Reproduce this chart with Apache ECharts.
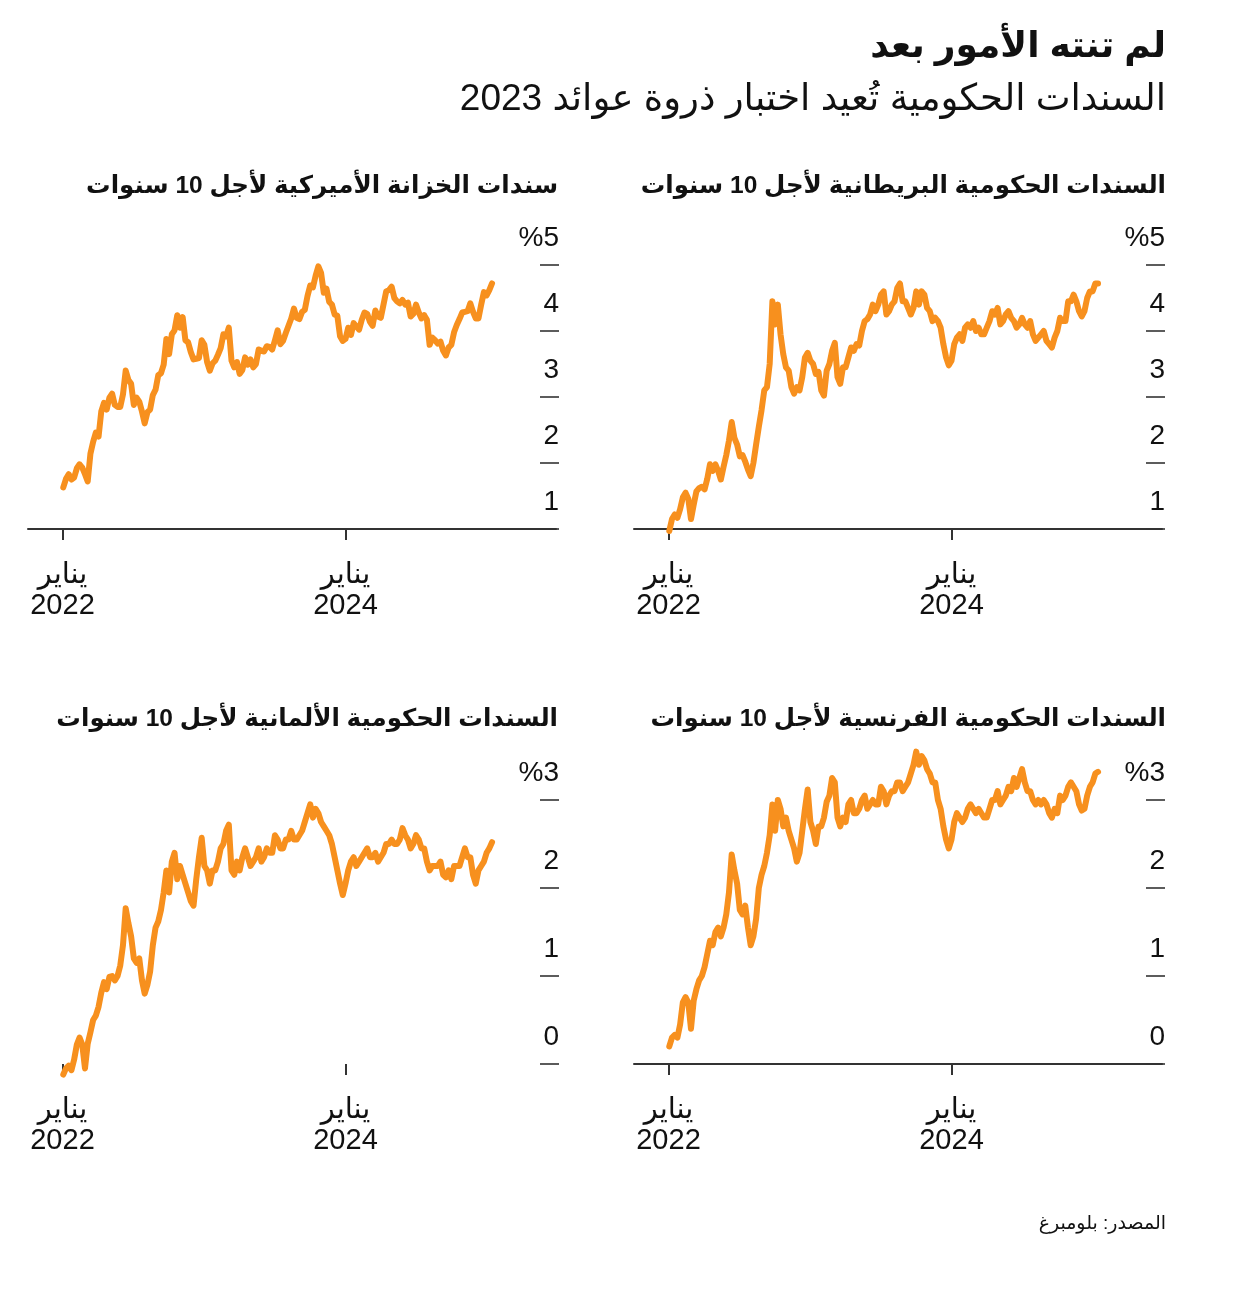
<!DOCTYPE html>
<html>
<head>
<meta charset="utf-8">
<script src="https://cdn.jsdelivr.net/npm/echarts@6/dist/echarts.min.js"></script>
<style>
html,body{margin:0;padding:0;background:#fff;}
#chart{width:1240px;height:1300px;}
</style>
</head>
<body>
<div id="chart"></div>
<script>
// ---- Texts ----
const mainTitle = 'لم تنته الأمور بعد';
const subTitle = 'السندات الحكومية تُعيد اختبار ذروة عوائد 2023';
const ukTitle = 'السندات الحكومية البريطانية لأجل 10 سنوات';
const usTitle = 'سندات الخزانة الأميركية لأجل 10 سنوات';
const frTitle = 'السندات الحكومية الفرنسية لأجل 10 سنوات';
const deTitle = 'السندات الحكومية الألمانية لأجل 10 سنوات';
const sourceText = 'المصدر: بلومبرغ';
const monthLabel = 'يناير';
const xTickYears = [2022, 2024];
const yTicksTop = [1, 2, 3, 4, 5];     // UK, US
const yTicksBottom = [0, 1, 2, 3];     // France, Germany

// ---- Weekly samples (Mondays), starting 2022-01-03 ----
const firstWeek = '2022-01-03';

// US 10-year Treasury yield (%)
const usYield = [
  1.63,1.76,1.83,1.75,1.78, 1.92,1.98,1.93,1.83, 1.72,2.14,2.32,2.46, 2.40,2.78,2.91,2.81,
  2.99,3.05,2.88,2.85,2.85, 3.04,3.40,3.26,3.20, 2.88,2.99,2.93,2.78, 2.60,2.77,2.81,3.03,3.11,
  3.33,3.36,3.49,3.88, 3.65,3.95,4.01,4.24,4.05, 4.21,3.86,3.83,3.68, 3.57,3.58,3.59,3.86,
  3.79,3.53,3.40,3.51,3.55, 3.64,3.74,3.95,3.92, 4.05,3.55,3.45,3.53, 3.35,3.41,3.60,3.49,
  3.57,3.45,3.50,3.72,3.70, 3.69,3.77,3.76,3.72, 3.86,4.01,3.80,3.85,3.97, 4.08,4.19,4.34,4.20,
  4.18,4.29,4.32,4.53, 4.69,4.66,4.84,4.98,4.88, 4.58,4.64,4.44,4.40, 4.25,4.23,3.92,3.85,
  3.88,4.05,3.94,4.12,4.07, 4.02,4.17,4.28,4.26, 4.14,4.08,4.31,4.22, 4.20,4.40,4.60,4.62,4.67,
  4.50,4.45,4.42,4.47, 4.40,4.43,4.22,4.26, 4.40,4.28,4.19,4.24,4.17, 3.79,3.90,3.86,3.81,
  3.84,3.70,3.63,3.75,3.79, 3.98,4.09,4.18,4.28, 4.29,4.30,4.42,4.29, 4.19,4.19,4.40,4.59,4.54,
  4.62,4.72
];

// UK 10-year gilt yield (%)
const ukYield = [
  0.97,1.15,1.22,1.17,1.30, 1.48,1.55,1.46,1.15, 1.37,1.57,1.62,1.64, 1.60,1.76,1.98,1.88,
  1.98,1.88,1.75,1.94,2.12, 2.34,2.62,2.38,2.28, 2.10,2.12,2.02,1.90, 1.80,2.00,2.28,2.55,2.80,
  3.10,3.15,3.50,4.45, 4.10,4.40,3.95,3.65,3.45, 3.40,3.15,3.05,3.15, 3.10,3.30,3.60,3.67,
  3.55,3.50,3.35,3.38,3.10, 3.02,3.40,3.50,3.70, 3.82,3.30,3.20,3.45, 3.45,3.60,3.75,3.70,
  3.80,3.78,4.00,4.15,4.18, 4.25,4.40,4.30,4.40, 4.55,4.60,4.25,4.30,4.40, 4.45,4.65,4.72,4.45,
  4.45,4.35,4.25,4.35, 4.60,4.40,4.60,4.55,4.35, 4.30,4.15,4.20,4.15, 4.05,3.80,3.60,3.48,
  3.55,3.80,3.90,3.95,3.85, 4.05,4.10,4.05,4.15, 4.00,4.05,3.95,3.95, 4.05,4.15,4.30,4.25,4.35,
  4.10,4.15,4.25,4.30, 4.20,4.15,4.05,4.10, 4.20,4.10,4.05,4.15,3.95, 3.85,3.90,3.95,4.00,
  3.85,3.80,3.75,3.90,4.00, 4.20,4.15,4.15,4.45, 4.45,4.55,4.45,4.30, 4.22,4.30,4.50,4.60,4.60,
  4.72,4.72
];

// France 10-year OAT yield (%)
const frYield = [
  0.20,0.30,0.33,0.30,0.45, 0.70,0.76,0.70,0.40, 0.72,0.85,0.95,1.00, 1.10,1.25,1.40,1.35,
  1.50,1.55,1.45,1.55,1.70, 1.95,2.38,2.20,2.05, 1.75,1.70,1.80,1.55, 1.35,1.45,1.65,2.00,2.15,
  2.25,2.40,2.60,2.95, 2.65,3.00,2.90,2.70,2.80, 2.65,2.55,2.45,2.30, 2.40,2.65,2.90,3.12,
  2.75,2.65,2.50,2.70,2.70, 2.80,2.98,3.05,3.25, 3.20,2.80,2.70,2.80, 2.75,2.95,3.00,2.85,
  2.85,2.90,3.00,3.05,2.90, 2.95,3.00,2.95,2.95, 3.15,3.10,2.95,3.05,3.10, 3.10,3.20,3.20,3.10,
  3.15,3.20,3.30,3.40, 3.55,3.40,3.50,3.45,3.35, 3.30,3.20,3.20,3.00, 2.90,2.70,2.55,2.45,
  2.55,2.75,2.85,2.80,2.75, 2.80,2.90,2.95,2.90, 2.85,2.90,2.85,2.80, 2.80,2.90,3.00,3.00,3.10,
  2.95,3.00,3.05,3.15, 3.10,3.25,3.15,3.25, 3.35,3.20,3.10,3.10,3.00, 2.95,3.00,2.95,3.00,
  2.95,2.85,2.80,2.90,2.85, 3.05,3.00,3.05,3.15, 3.20,3.15,3.10,2.95, 2.88,2.90,3.05,3.15,3.20,
  3.30,3.32
];

// Germany 10-year Bund yield (%)
const deYield = [
  -0.12,-0.05,-0.02,-0.07,0.05, 0.22,0.30,0.22,-0.05, 0.23,0.36,0.50,0.55, 0.65,0.81,0.93,0.85,
  0.99,1.00,0.95,1.00,1.12, 1.35,1.77,1.60,1.45, 1.20,1.15,1.20,0.95, 0.80,0.90,1.05,1.35,1.55,
  1.62,1.75,1.95,2.20, 1.95,2.30,2.40,2.10,2.25, 2.15,2.05,1.95,1.85, 1.80,2.10,2.35,2.57,
  2.25,2.20,2.05,2.20,2.20, 2.30,2.45,2.50,2.65, 2.72,2.20,2.15,2.30, 2.20,2.35,2.45,2.35,
  2.25,2.30,2.35,2.45,2.30, 2.35,2.45,2.40,2.40, 2.60,2.55,2.45,2.45,2.55, 2.55,2.65,2.55,2.55,
  2.60,2.65,2.75,2.85, 2.95,2.80,2.90,2.85,2.75, 2.70,2.65,2.60,2.50, 2.35,2.20,2.05,1.92,
  2.05,2.20,2.30,2.35,2.25, 2.30,2.35,2.40,2.45, 2.35,2.35,2.40,2.30, 2.35,2.40,2.50,2.50,2.55,
  2.50,2.50,2.55,2.68, 2.60,2.55,2.45,2.50, 2.60,2.55,2.45,2.45,2.30, 2.20,2.25,2.25,2.25,
  2.30,2.15,2.12,2.20,2.10, 2.25,2.25,2.25,2.35, 2.45,2.35,2.35,2.15, 2.05,2.20,2.25,2.30,2.40,
  2.45,2.52
];

// ---- Build ----
const DAY = 86400000;
const t0 = Date.parse(firstWeek + 'T00:00:00Z');
function toPairs(vals){ return vals.map((v,i)=>[t0 + i*7*DAY, v]); }
const xTicks = xTickYears.map(y => Date.UTC(y,0,1));
const xMin = Date.UTC(2021,9,4);
const xMax = Date.UTC(2025,5,27);

const FONT = "'Liberation Sans', 'DejaVu Sans', sans-serif";
const INK = '#111';
const ORANGE = '#F7901E';

const panels = [
  {left:634, top:265, height:264, min:1, max:5, ticks:yTicksTop, data:ukYield, axisLine:true},
  {left:28,  top:265, height:264, min:1, max:5, ticks:yTicksTop, data:usYield, axisLine:true},
  {left:634, top:800, height:264, min:0, max:3, ticks:yTicksBottom, data:frYield, axisLine:true},
  {left:28,  top:800, height:264, min:0, max:3, ticks:yTicksBottom, data:deYield, axisLine:false}
];

const grids=[], xAxes=[], yAxes=[], series=[];
panels.forEach((p,i)=>{
  grids.push({left:p.left, top:p.top, width:528, height:p.height, containLabel:false});
  xAxes.push({
    type:'value', gridIndex:i, min:xMin, max:xMax, scale:true,
    axisLine:{show:p.axisLine, onZero:false, lineStyle:{color:'#333', width:2}},
    axisTick:{show:true, customValues:xTicks, length:11, lineStyle:{color:'#333', width:2}},
    axisLabel:{show:true, customValues:xTicks, margin:30, fontSize:29, lineHeight:31, color:INK, fontFamily:FONT,
      formatter:(v)=> monthLabel + '\n' + new Date(v).getUTCFullYear()},
    splitLine:{show:false}
  });
  yAxes.push({
    type:'value', gridIndex:i, position:'right', offset:-16, min:p.min, max:p.max, interval:1,
    axisLine:{show:false},
    axisTick:{show:true, inside:false, length:19, customValues:p.ticks, lineStyle:{color:'#333', width:1.6}},
    axisLabel:{show:true, customValues:p.ticks, showMinLabel:true, showMaxLabel:true, hideOverlap:false,
      margin:19, align:'right', verticalAlign:'bottom', lineHeight:54,
      fontSize:28, color:INK, fontFamily:FONT,
      formatter:(v)=> (v===p.max ? '%'+v : String(v))},
    splitLine:{show:false}
  });
  series.push({
    type:'line', xAxisIndex:i, yAxisIndex:i, data:toPairs(p.data), showSymbol:false, symbol:'none',
    clip:false, lineStyle:{color:ORANGE, width:6, join:'round', cap:'round'}, animation:false
  });
});

const titles = [
  {text:mainTitle, right:74, top:29, padding:0, textStyle:{fontSize:36, fontWeight:'bold', color:INK, fontFamily:FONT}},
  {text:subTitle, right:74, top:81, padding:0, textStyle:{fontSize:37, fontWeight:'normal', color:INK, fontFamily:FONT}},
  {text:ukTitle, right:74, top:174, padding:0, textStyle:{fontSize:24.5, fontWeight:'bold', color:INK, fontFamily:FONT}},
  {text:usTitle, right:682, top:174, padding:0, textStyle:{fontSize:24.5, fontWeight:'bold', color:INK, fontFamily:FONT}},
  {text:frTitle, right:74, top:707, padding:0, textStyle:{fontSize:24.5, fontWeight:'bold', color:INK, fontFamily:FONT}},
  {text:deTitle, right:682, top:707, padding:0, textStyle:{fontSize:24.5, fontWeight:'bold', color:INK, fontFamily:FONT}},
  {text:sourceText, right:74, top:1214, padding:0, textStyle:{fontSize:19, fontWeight:'normal', color:INK, fontFamily:FONT}}
];

const chart = echarts.init(document.getElementById('chart'), null, {renderer:'canvas'});
chart.setOption({
  backgroundColor:'#fff',
  animation:false,
  title:titles,
  grid:grids, xAxis:xAxes, yAxis:yAxes, series:series
});
</script>
</body>
</html>
